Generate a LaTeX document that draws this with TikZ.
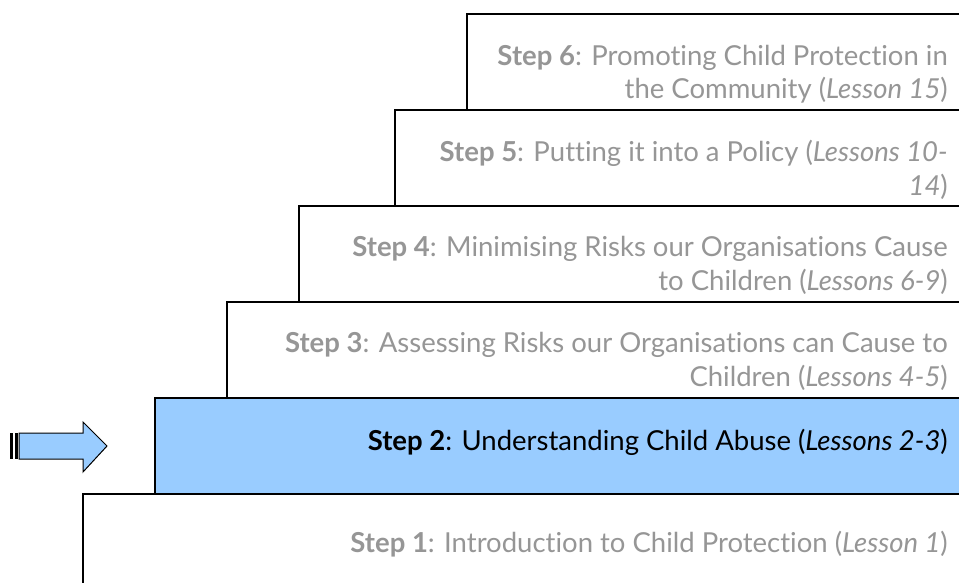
\documentclass[tikz,border=0pt]{standalone}
\usepackage{fontspec}
\setmainfont[Ligatures={NoCommon}]{Lato}
\definecolor{boxblue}{RGB}{153,204,255}
\definecolor{txtgray}{RGB}{150,150,150}
\tikzset{
  stepbox/.style={draw=black, line width=1.3pt, fill=white},
  curbox/.style={draw=black, line width=1.3pt, fill=boxblue},
  steptext/.style={anchor=base east, inner sep=0pt, text=txtgray, font=\fontsize{27.5}{32}\selectfont},
  curtext/.style={steptext, text=black},
}
\begin{document}
\begin{tikzpicture}[x=1pt,y=-1pt]
\useasboundingbox (0,0) rectangle (959,583);
\clip (0,0) rectangle (959,583);
% boxes
\draw[stepbox] (467,14) rectangle (975,110);
\draw[stepbox] (395,110) rectangle (975,206);
\draw[stepbox] (299,206) rectangle (975,302);
\draw[stepbox] (227,302) rectangle (975,398);
\draw[curbox]  (155,398) rectangle (975,494);
\draw[stepbox] (83,494) rectangle (975,600);
% texts
\node[steptext] (s6a) at (948,66) {\textbf{Step 6}: Promoting Child Protection in};
\node[steptext] (s6b) at (948,99) {the Community (\textit{Lesson 15})};
\node[steptext] (s5a) at (948,161) {\textbf{Step 5}: Putting it into a Policy (\textit{Lessons 10-}};
\node[steptext] (s5b) at (948,196) {\textit{14})};
\node[steptext] (s4a) at (948,256) {\textbf{Step 4}: Minimising Risks our Organisations Cause};
\node[steptext] (s4b) at (948,290) {to Children (\textit{Lessons 6-9})};
\node[steptext] (s3a) at (948,352) {\textbf{Step 3}: Assessing Risks our Organisations can Cause to};
\node[steptext] (s3b) at (948,386) {Children (\textit{Lessons 4-5})};
\node[curtext] (s2) at (948,450) {\textbf{Step 2}: Understanding Child Abuse (\textit{Lessons 2-3})};
\node[steptext] (s1) at (948,552) {\textbf{Step 1}: Introduction to Child Protection (\textit{Lesson 1})};
% striped arrow
\draw[draw=black, line width=1pt, fill=boxblue, line join=miter]
  (19,433) -- (83,433) -- (83,422) -- (107,446) -- (83,472) -- (83,459) -- (19,459) -- cycle;
\fill[black] (10,433) rectangle (12.5,459);
\fill[black] (15,433) rectangle (18,459);
\end{tikzpicture}
\end{document}
